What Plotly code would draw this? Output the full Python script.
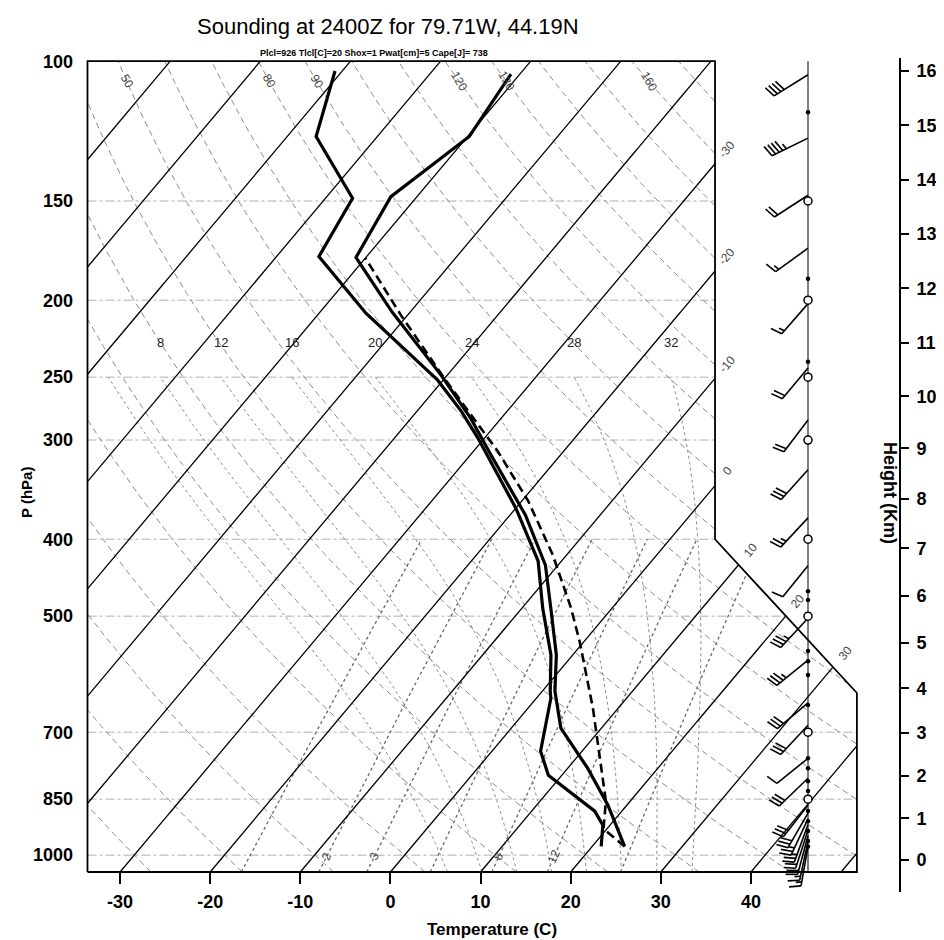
import numpy as np
import plotly.graph_objects as go

# ---------------- data ----------------
title_text = "Sounding at 2400Z for 79.71W, 44.19N"
subtitle_text = "Plcl=926 Tlcl[C]=20 Shox=1 Pwat[cm]=5 Cape[J]= 738"

temp_p = [103.8, 124.4, 148.1, 176.7, 207.0, 248.5, 281.6, 313.4, 372.9, 431.3,
          488.5, 559.9, 621.6, 691.8, 777.0, 864.9, 975.0]
temp_c = [-61.0, -59.8, -62.9, -61.1, -52.0, -40.7, -33.4, -27.7, -18.3, -11.4,
          -6.8, -1.8, 1.4, 5.5, 12.2, 17.9, 23.6]

dewp_p = [102.9, 124.4, 148.8, 176.2, 207.7, 252.2, 275.9, 298.5, 365.5, 426.1,
          488.5, 559.9, 622.0, 634.3, 739.7, 793.0, 880.2, 916.6, 975.0]
dewp_c = [-80.8, -76.8, -67.0, -65.3, -54.8, -40.6, -35.1, -30.7, -20.0, -12.6,
          -7.7, -2.4, 0.9, 1.6, 5.4, 8.5, 17.0, 19.2, 21.0]

parcel_p = [975, 926, 855, 733, 653, 538, 488, 419, 358, 310, 251, 209, 177]
parcel_c = [23.6, 19.6, 17.3, 11.5, 7.2, -0.5, -4.6, -11.5, -19.3, -27.3, -40.0, -50.7, -60.0]

wind_p = [104, 125, 147.5, 172, 202, 243.5, 283, 327, 376, 432, 503, 568, 643, 686,
          755, 800, 865, 885, 900, 915, 930, 945, 960, 975]
wind_dir = [238, 244, 237, 234, 221, 220, 217, 222, 223, 219, 223, 231, 230, 223,
            231, 226, 218, 210, 205, 200, 198, 195, 192, 190]
wind_spd = [40, 45, 20, 15, 15, 20, 20, 30, 25, 10, 35, 35, 30, 30,
            10, 30, 30, 30, 25, 25, 20, 20, 15, 15]

sig_levels = [116, 188, 239, 465, 477, 553, 570, 593, 647, 755, 777, 807, 830,
              880, 906, 932, 960, 975]
mand_levels = [150, 200, 250, 300, 400, 500, 700, 850]

p_ticks = [100, 150, 200, 250, 300, 400, 500, 700, 850, 1000]
t_ticks = [-30, -20, -10, 0, 10, 20, 30, 40]
height_ticks = list(range(0, 17))

isotherm_vals = list(range(-100, 51, 10))
iso_labels_right = [-30, -20, -10, 0]
iso_labels_diag = [10, 20, 30]
dry_vals = list(range(-40, 181, 10))
dry_label_vals = [50, 80, 90, 120, 130, 160]
moist_vals = [4, 8, 12, 16, 20, 24, 28, 32]
moist_label_vals = [8, 12, 16, 20, 24, 28, 32]
mix_vals = [1, 2, 3, 5, 8, 12, 20]
mix_label_vals = [2, 3, 8, 12]

# ---------------- geometry of the skew-T (NCL style) ----------------
FONT = "Liberation Sans"
FIG_W, FIG_H = 944, 940
L_M, R_M, T_M, B_M = 78, 30, 50, 56
PLOT_W = 774
PAPER_W = FIG_W - L_M - R_M
PAPER_H = FIG_H - T_M - B_M
KX = 16.69            # px per skew-x unit
X0PX = 396.6          # figure px of skew-x = 0
KY = 793.98           # px per decade of pressure
PY1050 = 864.0        # figure px of 1050 hPa
xr0 = (L_M - X0PX) / KX
xr1 = (L_M + PLOT_W - X0PX) / KX
ylog_top = np.log10(1050) - (PY1050 - T_M) / KY
ylog_bot = np.log10(1050) + (FIG_H - B_M - PY1050) / KY


def yncl(p):
    return 132.182 - 44.061 * np.log10(np.asarray(p, dtype=float))


def p_from_y(y):
    return 10 ** ((132.182 - y) / 44.061)


def skew_x(t, p):
    return 0.54 * np.asarray(t, dtype=float) + 0.90692 * yncl(p)


Y_BOT, Y_TOP = yncl(1050), yncl(100)


def x_right(y):
    y = np.asarray(y, dtype=float)
    return np.where(y <= 9.0, 27.1,
                    np.where(y >= 17.53, 18.6, 27.1 - (y - 9.0) * (8.5 / 8.53)))


def inside(x, y):
    return (x >= -19.0) & (x <= x_right(y)) & (y >= Y_BOT - 1e-9) & (y <= Y_TOP + 1e-9)


def clipped(xs, ps, X, P):
    ys = yncl(ps)
    m = inside(np.asarray(xs), ys)
    for xi, pi, mi in zip(xs, ps, m):
        if mi and np.isfinite(xi):
            X.append(round(float(xi), 4))
            P.append(round(float(pi), 3))
        elif X and X[-1] is not None:
            X.append(None)
            P.append(None)
    if X and X[-1] is not None:
        X.append(None)
        P.append(None)


PS = np.logspace(np.log10(1050), 2, 1200)

# isotherms
iso_x, iso_p = [], []
for t in isotherm_vals:
    clipped(skew_x(t, PS), PS, iso_x, iso_p)

# dry adiabats
dry_x, dry_p = [], []
for th in dry_vals:
    tt = (th + 273.15) * (PS / 1000.0) ** 0.2857 - 273.15
    clipped(skew_x(tt, PS), PS, dry_x, dry_p)


# moist adiabats (pseudo-adiabatic lapse rate integration)
def dTdp(p, T):
    tc = T - 273.15
    es = 6.112 * np.exp(17.67 * tc / (tc + 243.5))
    rs = 0.622 * es / (p - es)
    num = 287.04 * T + 2.501e6 * rs
    den = 1005.7 + (2.501e6 ** 2 * rs * 0.622) / (287.04 * T * T)
    return num / den / p


def moist_branch(thw, p_end, dp):
    T = thw + 273.15
    p = 1000.0
    ps, ts = [p], [T]
    while (dp < 0 and p > p_end) or (dp > 0 and p < p_end):
        k1 = dTdp(p, T)
        k2 = dTdp(p + dp / 2, T + dp / 2 * k1)
        k3 = dTdp(p + dp / 2, T + dp / 2 * k2)
        k4 = dTdp(p + dp, T + dp * k3)
        T += dp / 6 * (k1 + 2 * k2 + 2 * k3 + k4)
        p += dp
        ps.append(p)
        ts.append(T)
    return np.array(ps), np.array(ts) - 273.15


moist_x, moist_p = [], []
moist_top_x = {}
for thw in moist_vals:
    pu, tu = moist_branch(thw, 250.0, -2.0)
    pd_, td_ = moist_branch(thw, 1050.0, 2.0)
    pp = np.concatenate([pd_[::-1], pu[1:]])
    tt = np.concatenate([td_[::-1], tu[1:]])
    xx = skew_x(tt, pp)
    clipped(xx, pp, moist_x, moist_p)
    moist_top_x[thw] = float(skew_x(tu[-1], pu[-1]))


# mixing ratio lines
def td_from_w(w, p):
    e = w * p / (622.0 + w)
    le = np.log(e / 6.112)
    return 243.5 * le / (17.67 - le)


PM = np.logspace(np.log10(1050), np.log10(400), 500)
mix_x, mix_p = [], []
for w in mix_vals:
    clipped(skew_x(td_from_w(w, PM), PM), PM, mix_x, mix_p)

# isobars
bar_x, bar_p = [], []
for p in p_ticks:
    xs = np.linspace(-19.0, 27.1, 400)
    clipped(xs, np.full_like(xs, float(p)), bar_x, bar_p)

# outline of the diagram
outline_x = [-19.0, 27.1, 27.1, 18.6, 18.6, -19.0, -19.0]
outline_p = [1050, 1050, p_from_y(9.0), p_from_y(17.53), 100, 100, 1050]

# ---------------- wind barbs ----------------
STAFF_X = (800.0 - X0PX) / KX
L_SHAFT, F_LEN, F_SP, F_ANG = 40.0, 12.0, 4.0, np.deg2rad(75)
barb_x, barb_p = [], []


def add_seg(p0, pts):
    for dx, dy in pts:
        barb_x.append(round(STAFF_X + dx / KX, 4))
        barb_p.append(round(float(10 ** (np.log10(p0) + dy / KY)), 3))
    barb_x.append(None)
    barb_p.append(None)


for p0, d, s in zip(wind_p, wind_dir, wind_spd):
    th = np.deg2rad(d)
    ux, uy = np.sin(th), -np.cos(th)
    fx, fy = np.cos(th), np.sin(th)
    vx = fx * np.sin(F_ANG) + ux * np.cos(F_ANG)
    vy = fy * np.sin(F_ANG) + uy * np.cos(F_ANG)
    add_seg(p0, [(0, 0), (L_SHAFT * ux, L_SHAFT * uy)])
    n50 = s // 50
    rem = s - 50 * n50
    n10 = rem // 10
    n5 = (rem - 10 * n10) // 5
    pos = L_SHAFT
    for _ in range(n50):
        bx, by = pos * ux, pos * uy
        cx, cy = (pos - F_SP * 1.5) * ux, (pos - F_SP * 1.5) * uy
        add_seg(p0, [(bx, by), (bx + F_LEN * fx, by + F_LEN * fy), (cx, cy)])
        pos -= F_SP * 2
    for _ in range(n10):
        bx, by = pos * ux, pos * uy
        add_seg(p0, [(bx, by), (bx + F_LEN * vx, by + F_LEN * vy)])
        pos -= F_SP
    if n5:
        if n10 == 0 and n50 == 0:
            pos -= F_SP
        bx, by = pos * ux, pos * uy
        add_seg(p0, [(bx, by), (bx + 0.5 * F_LEN * vx, by + 0.5 * F_LEN * vy)])


# ---------------- standard atmosphere for the height axis ----------------
def std_p(z_km):
    z = z_km * 1000.0
    if z <= 11000:
        return 1013.25 * (1 - 2.25577e-5 * z) ** 5.25588
    return 226.32 * np.exp(-(z - 11000) / 6341.62)


height_p = [std_p(h) for h in height_ticks]

# ---------------- figure ----------------
fig = go.Figure()
thin = dict(hoverinfo="skip", showlegend=False, mode="lines")

fig.add_trace(go.Scatter(x=bar_x, y=bar_p, line=dict(color="#b0b0b0", width=1, dash="dashdot"), **thin))
fig.add_trace(go.Scatter(x=mix_x, y=mix_p, line=dict(color="#666666", width=1.3, dash="dot"), **thin))
fig.add_trace(go.Scatter(x=dry_x, y=dry_p, line=dict(color="#8c8c8c", width=1, dash="6px,4px"), **thin))
fig.add_trace(go.Scatter(x=moist_x, y=moist_p, line=dict(color="#8c8c8c", width=1, dash="3px,3px"), **thin))
fig.add_trace(go.Scatter(x=iso_x, y=iso_p, line=dict(color="black", width=1.3), **thin))
fig.add_trace(go.Scatter(x=outline_x, y=outline_p, line=dict(color="black", width=1.8), **thin))

# wind staff, levels and barbs
fig.add_trace(go.Scatter(x=[STAFF_X, STAFF_X], y=[1050, 100], line=dict(color="black", width=1), **thin))
fig.add_trace(go.Scatter(x=barb_x, y=barb_p, line=dict(color="black", width=1.6), **thin))
fig.add_trace(go.Scatter(x=[STAFF_X] * len(sig_levels), y=sig_levels, mode="markers",
                         marker=dict(size=4.5, color="black"), hoverinfo="skip", showlegend=False))
fig.add_trace(go.Scatter(x=[STAFF_X] * len(mand_levels), y=mand_levels, mode="markers",
                         marker=dict(size=8, color="white", line=dict(color="black", width=1.5)),
                         hoverinfo="skip", showlegend=False))

# sounding profiles
fig.add_trace(go.Scatter(x=skew_x(parcel_c, parcel_p), y=parcel_p,
                         line=dict(color="black", width=2.6, dash="9px,5px"), **thin))
fig.add_trace(go.Scatter(x=skew_x(dewp_c, dewp_p), y=dewp_p, line=dict(color="black", width=3.2), **thin))
fig.add_trace(go.Scatter(x=skew_x(temp_c, temp_p), y=temp_p, line=dict(color="black", width=3.2), **thin))

# dummy trace for the height axis
fig.add_trace(go.Scatter(x=[STAFF_X], y=[500], yaxis="y2", mode="markers",
                         marker=dict(opacity=0), hoverinfo="skip", showlegend=False))

ann = []
lab_font = dict(family=FONT, size=12, color="#444444")


def data_ann(text, x, p, angle=0, font=lab_font):
    ann.append(dict(text=text, x=float(x), y=float(np.log10(p)), xref="x", yref="y",
                    showarrow=False, textangle=angle, font=font,
                    xanchor="center", yanchor="middle"))


# isotherm labels, just beyond the boundary along the line direction
ux_i, uy_i = 15.14, 18.02
nrm = np.hypot(ux_i, uy_i)
OFF = 19.0
for t in iso_labels_right:
    y = (18.6 - 0.54 * t) / 0.90692
    x = 18.6 + OFF * ux_i / nrm / KX
    p = 10 ** (np.log10(p_from_y(y)) - OFF * uy_i / nrm / KY)
    data_ann(str(t), x, p, -50)
for t in iso_labels_diag:
    y = (36.068 - 0.54 * t) / (0.90692 + 0.99648)
    x0 = 0.54 * t + 0.90692 * y
    x = x0 + OFF * ux_i / nrm / KX
    p = 10 ** (np.log10(p_from_y(y)) - OFF * uy_i / nrm / KY)
    data_ann(str(t), x, p, -50)

# dry adiabat labels near the top
for th in dry_label_vals:
    tt = (th + 273.15) * (106 / 1000.0) ** 0.2857 - 273.15
    data_ann(str(th), skew_x(tt, 106), 106, 60)

# moist adiabat labels
for thw in moist_label_vals:
    data_ann(str(thw), moist_top_x[thw], 226,
             0, dict(family=FONT, size=13, color="#222222"))

# mixing ratio labels
for w in mix_label_vals:
    data_ann(str(w), skew_x(td_from_w(w, 1003.0), 1003.0), 1003, -66)


def paper_xy(px, py):
    return (px - L_M) / PAPER_W, (FIG_H - B_M - py) / PAPER_H


def paper_ann(text, px, py, size, bold=False, angle=0):
    x, y = paper_xy(px, py)
    ann.append(dict(text=text, x=x, y=y, xref="paper", yref="paper", showarrow=False,
                    textangle=angle, xanchor="center", yanchor="middle",
                    font=dict(family=FONT, size=size, color="black",
                              weight="bold" if bold else "normal")))


paper_ann(title_text, 380, 18, 22)
paper_ann(subtitle_text, 366, 45, 9, bold=True)
paper_ann("Temperature (C)", 484, 921, 17, bold=True)
paper_ann("P (hPa)", 18, 485, 15, bold=True, angle=-90)
paper_ann("Height (Km)", 882, 485, 18, bold=True, angle=90)

tick_font = dict(family=FONT, size=18, color="black", weight="bold")

fig.update_layout(
    width=FIG_W, height=FIG_H,
    margin=dict(l=L_M, r=R_M, t=T_M, b=B_M, pad=0),
    paper_bgcolor="white", plot_bgcolor="white",
    showlegend=False,
    annotations=ann,
    xaxis=dict(domain=[0, PLOT_W / PAPER_W], range=[xr0, xr1],
               anchor="free", position=(FIG_H - B_M - PY1050) / PAPER_H,
               tickmode="array", tickvals=[float(v) for v in skew_x(t_ticks, 1050)],
               ticktext=[str(t) for t in t_ticks],
               ticks="outside", ticklen=11, tickwidth=1.5, tickcolor="black",
               showline=False, showgrid=False, zeroline=False,
               tickfont=tick_font, ticklabelstandoff=2, fixedrange=True),
    yaxis=dict(type="log", range=[ylog_bot, ylog_top], domain=[0, 1],
               tickmode="array", tickvals=p_ticks, ticktext=[str(p) for p in p_ticks],
               ticks="", showline=False, showgrid=False, zeroline=False,
               tickfont=tick_font, ticklabelstandoff=12, fixedrange=True),
    yaxis2=dict(type="log", range=[ylog_bot, ylog_top], overlaying="y", anchor="free",
                position=(892 - L_M) / PAPER_W, side="right",
                tickmode="array", tickvals=height_p, ticktext=[str(h) for h in height_ticks],
                ticks="outside", ticklen=8, tickwidth=2, tickcolor="black",
                showline=True, linewidth=2, linecolor="black",
                showgrid=False, zeroline=False, tickfont=tick_font,
                ticklabelstandoff=4, fixedrange=True),
)

fig.write_html("out.html")
